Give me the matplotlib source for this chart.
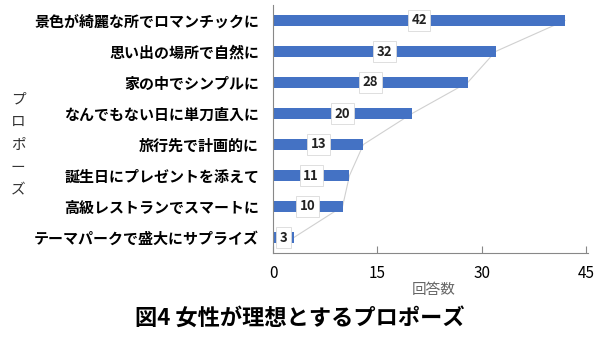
import matplotlib
matplotlib.use("Agg")
import matplotlib.pyplot as plt

plt.rcParams['font.family'] = ['Noto Sans CJK JP', 'DejaVu Sans']

# proposals, top to bottom
categories = ["景色が綺麗な所でロマンチックに", "思い出の場所で自然に", "家の中でシンプルに",
              "なんでもない日に単刀直入に", "旅行先で計画的に", "誕生日にプレゼントを添えて",
              "高級レストランでスマートに", "テーマパークで盛大にサプライズ"]
counts = [42, 32, 28, 20, 13, 11, 10, 3]
xticks = [0, 15, 30, 45]

fig = plt.figure(figsize=(6, 3.37), dpi=100)
ax = fig.add_axes([273/600, 1 - 253/337, 315/600, 248/337])

ypos = list(range(len(categories)))
ax.barh(ypos, counts, height=0.33, color='#4472C4', zorder=2)
# thin gray line joining bar ends
ax.plot(counts, ypos, color='#d0d0d0', lw=0.8, zorder=1)

for y, v in zip(ypos, counts):
    ax.text(v / 2, y, str(v), ha='center', va='center', fontsize=9.5, fontweight='bold',
            color='#222222', zorder=3,
            bbox=dict(boxstyle='square,pad=0.28', fc='white', ec='#d9d9d9', lw=0.6))

ax.set_ylim(len(categories) - 0.5, -0.5)
ax.set_xlim(0, 45.3)
ax.set_yticks(ypos)
ax.set_yticklabels(categories, fontsize=10.8, fontweight='bold')
ax.set_xticks(xticks)
ax.set_xticklabels([str(t) for t in xticks], fontsize=11)
ax.tick_params(axis='y', length=0, pad=10)
ax.tick_params(axis='x', direction='in', length=5, color='#888888', pad=9)

for s in ['top', 'right']:
    ax.spines[s].set_visible(False)
ax.spines['left'].set_color('#888888')
ax.spines['bottom'].set_color('#888888')

ax.set_xlabel("回答数", fontsize=10.5, color='#666666', labelpad=0)
ax.xaxis.set_label_coords(0.51, -0.12)

fig.text(18/600, 1 - 145/337, "プ\nロ\nポ\nー\nズ", ha='center', va='center',
         fontsize=10.5, color='#333333', linespacing=1.8)

fig.text(0.5, 1 - 318/337, "図4 女性が理想とするプロポーズ", ha='center', va='center',
         fontsize=16, fontweight='bold')

fig.savefig("out.png", dpi=100)
